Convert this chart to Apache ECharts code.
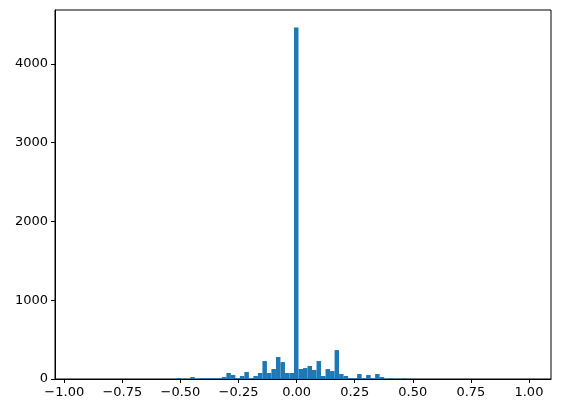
<!DOCTYPE html>
<html>
<head>
<meta charset="utf-8">
<script src="https://cdn.jsdelivr.net/npm/echarts@6/dist/echarts.min.js"></script>
<style>
  html, body { margin: 0; padding: 0; background: #fff; }
  #chart { width: 561px; height: 413px; }
</style>
</head>
<body>
<div id="chart"></div>
<script>
  // histogram: 100 bins from binStart, width binWidth
  var binStart = -0.943;
  var binWidth = 0.01941;
  var counts = [
    1, 0, 0, 0, 0, 0, 0, 0, 0, 0,
    0, 0, 0, 0, 0, 0, 0, 0, 0, 0,
    0, 0, 13, 0, 0, 25, 2, 10, 10, 10,
    10, 10, 25, 76, 51, 10, 38, 89, 10, 38,
    76, 228, 76, 127, 279, 215, 76, 76, 4460, 127,
    139, 165, 114, 228, 38, 127, 101, 367, 63, 38,
    10, 10, 63, 10, 51, 10, 63, 25, 3, 10,
    0, 0, 10, 0, 0, 0, 0, 0, 0, 0,
    0, 0, 0, 0, 0, 0, 0, 0, 0, 0,
    0, 0, 0, 0, 0, 0, 0, 0, 0, 1
  ];
  var xTicks = [-1.0, -0.75, -0.5, -0.25, 0, 0.25, 0.5, 0.75, 1.0];
  var yTicks = [0, 1000, 2000, 3000, 4000];

  var bins = counts.map(function (c, i) {
    var x0 = binStart + i * binWidth;
    return [x0, x0 + binWidth, c];
  });

  var chart = echarts.init(document.getElementById('chart'));
  var font = { fontFamily: 'DejaVu Sans', fontSize: 13, color: '#000' };

  var option = {
    animation: false,
    grid: {
      left: 55, right: 10, top: 10, bottom: 34,
      show: true, borderColor: '#000', borderWidth: 1
    },
    xAxis: {
      type: 'value',
      min: -1.04,
      max: 1.095,
      splitLine: { show: false },
      axisLine: { onZero: false, lineStyle: { color: '#000', width: 1 } },
      axisTick: { customValues: xTicks, length: 4, lineStyle: { color: '#000' } },
      axisLabel: {
        customValues: xTicks,
        margin: 7,
        fontFamily: font.fontFamily, fontSize: font.fontSize, color: font.color,
        formatter: function (v) {
          var s = Math.abs(v).toFixed(2);
          return v < 0 ? '\u2212' + s : s;
        }
      }
    },
    yAxis: {
      type: 'value',
      min: 0,
      max: 4683,
      splitLine: { show: false },
      axisLine: { show: true, onZero: false, lineStyle: { color: '#000', width: 1 } },
      axisTick: { show: true, customValues: yTicks, length: 4, lineStyle: { color: '#000' } },
      axisLabel: {
        customValues: yTicks,
        margin: 7,
        fontFamily: font.fontFamily, fontSize: font.fontSize, color: font.color,
        formatter: function (v) { return String(v); }
      }
    },
    series: [{
      type: 'custom',
      data: bins,
      encode: { x: [0, 1], y: 2 },
      renderItem: function (params, api) {
        var p0 = api.coord([api.value(0), api.value(2)]);
        var p1 = api.coord([api.value(1), 0]);
        return {
          type: 'rect',
          shape: { x: p0[0], y: p0[1], width: p1[0] - p0[0], height: p1[1] - p0[1] },
          style: { fill: '#1f77b4' }
        };
      }
    }]
  };
  chart.setOption(option);
</script>
</body>
</html>
